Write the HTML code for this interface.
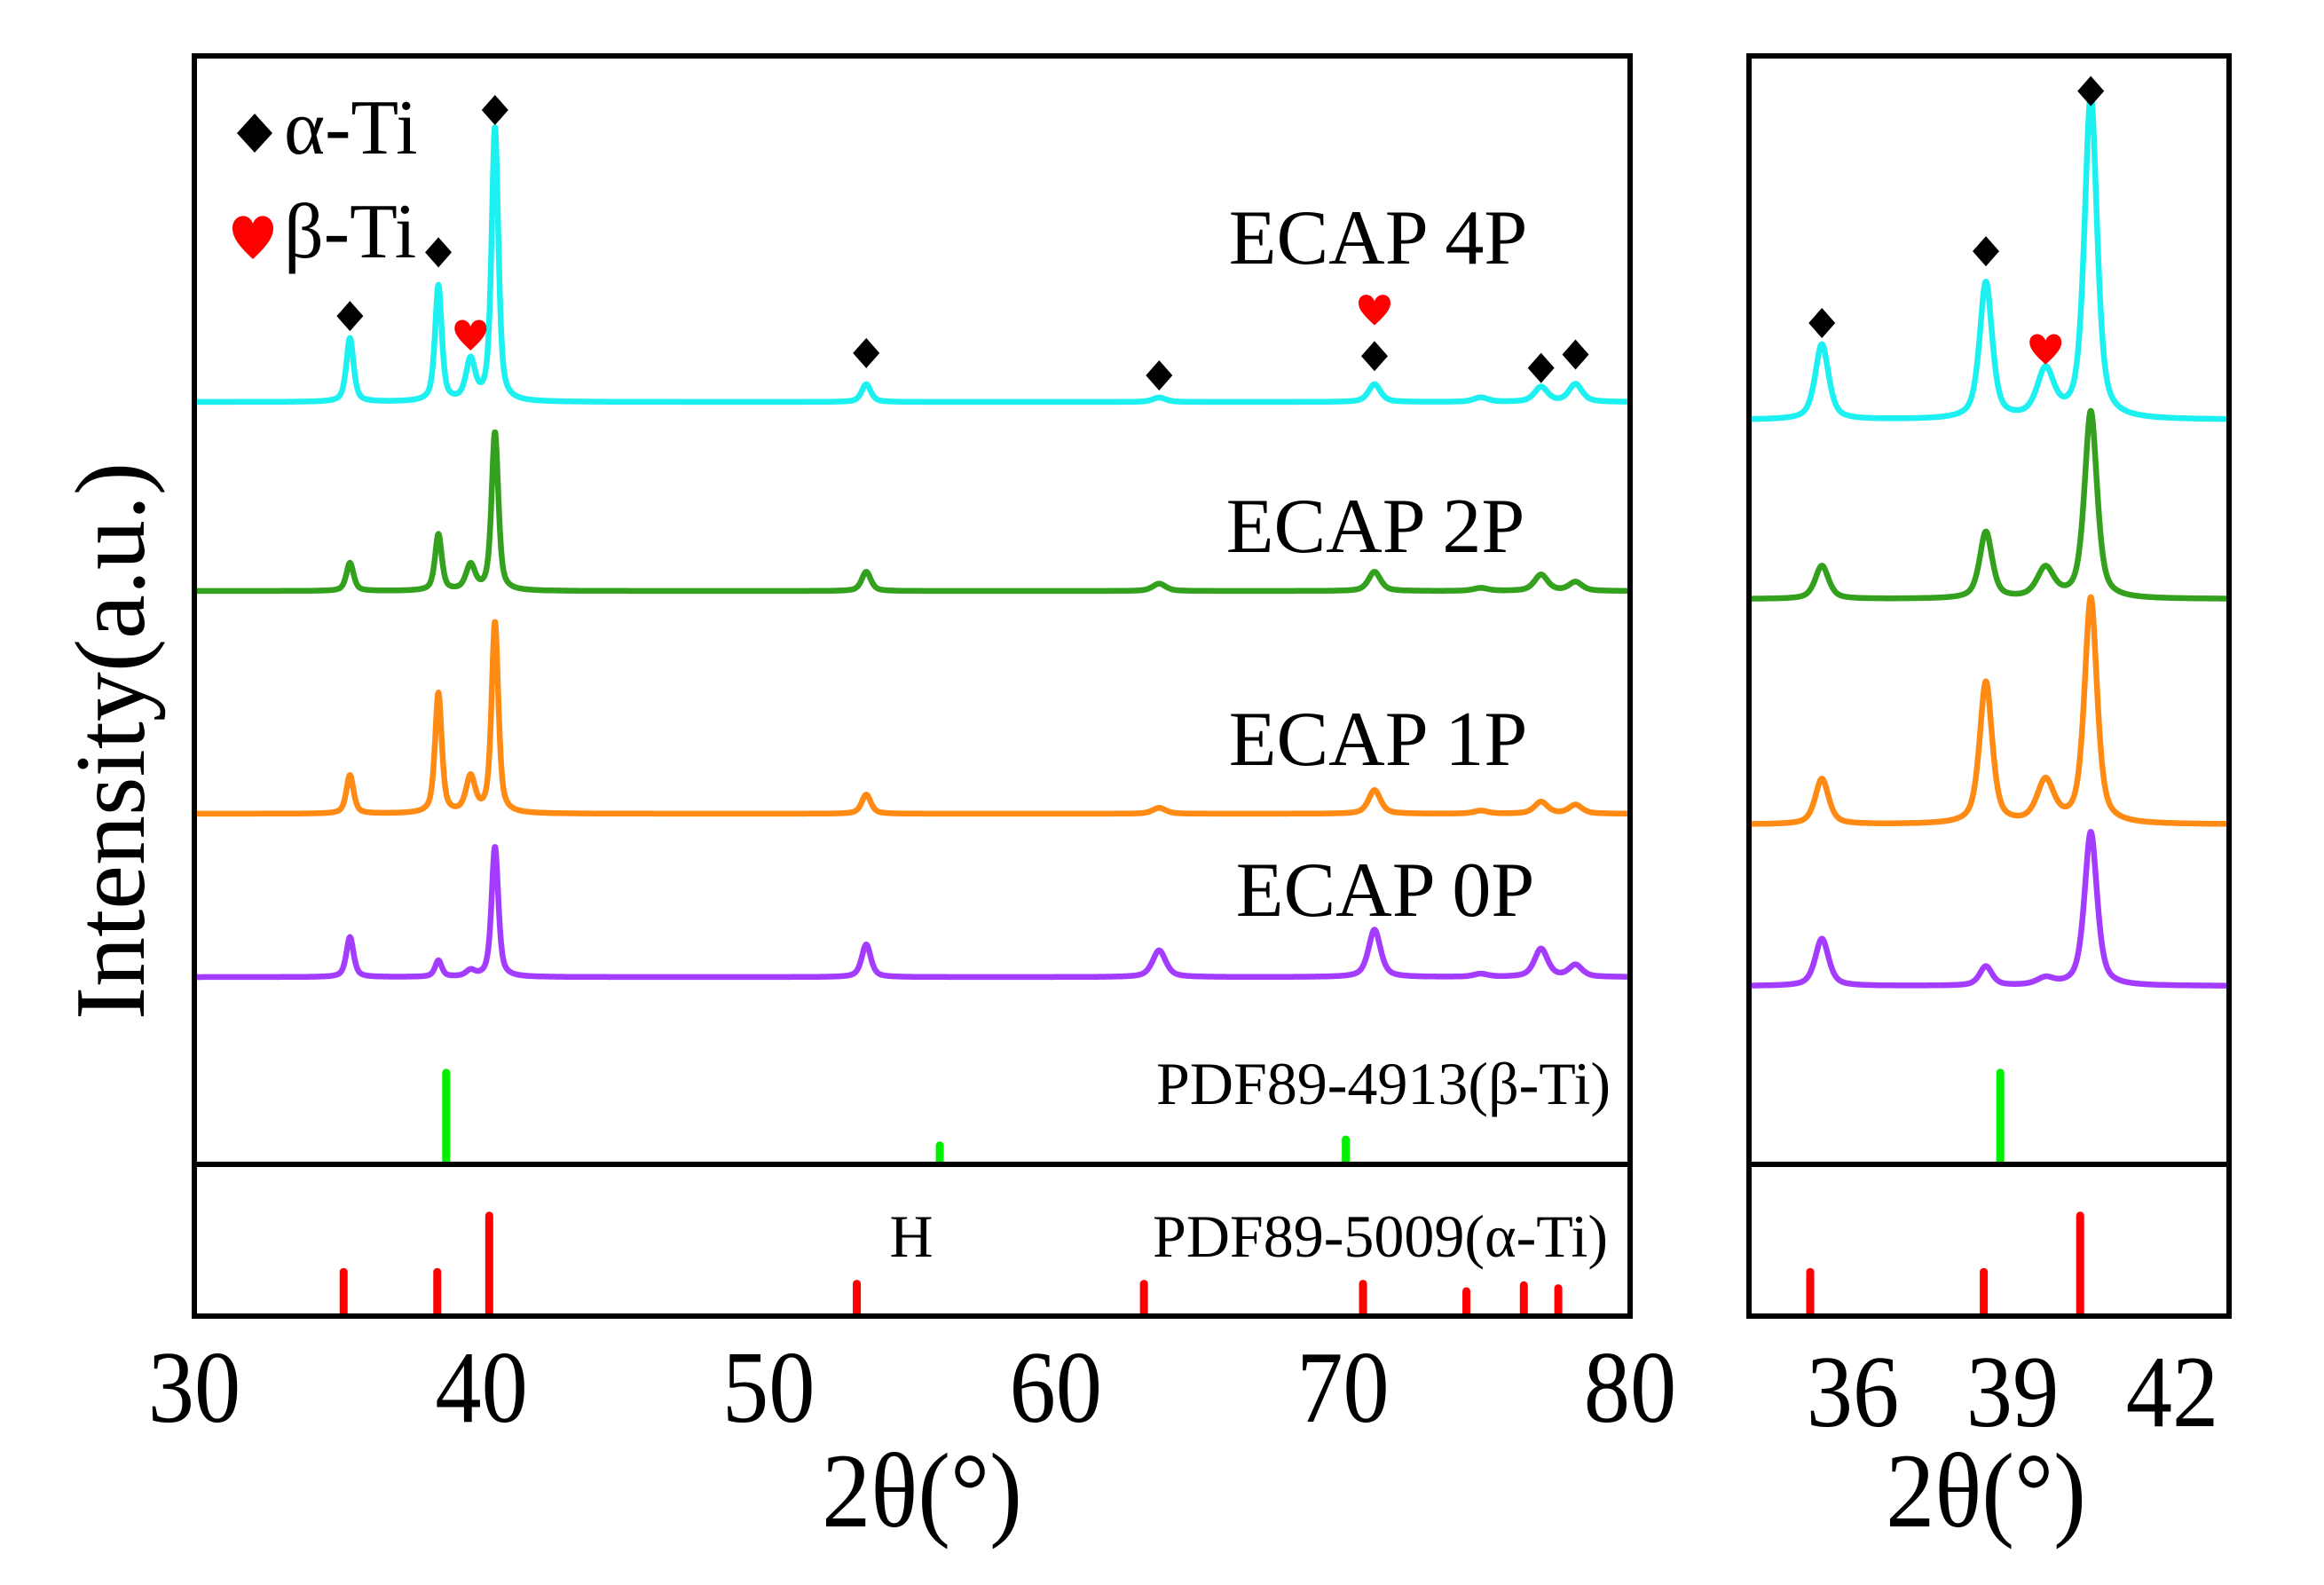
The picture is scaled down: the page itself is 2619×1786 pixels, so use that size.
<!DOCTYPE html>
<html><head><meta charset="utf-8"><style>
html,body{margin:0;padding:0;background:#fff;}
svg{display:block;}
text{font-family:"Liberation Serif",serif;fill:#000;}
</style></head><body>
<svg id="chart" width="2619" height="1786" viewBox="0 0 2619 1786" xmlns="http://www.w3.org/2000/svg">
<defs>
<clipPath id="clipMain"><rect x="222" y="66" width="1612" height="1414"/></clipPath>
<clipPath id="clipRight"><rect x="1974" y="66" width="535" height="1414"/></clipPath>
</defs>
<g id="main-curves" clip-path="url(#clipMain)"></g>
<g id="right-curves" clip-path="url(#clipRight)"></g>
<g id="markers"></g>
<rect x="219" y="63" width="1618" height="1420" fill="none" stroke="#000" stroke-width="6"/>
<line x1="219" y1="1312" x2="1837" y2="1312" stroke="#000" stroke-width="6"/>
<rect x="1971" y="63" width="541" height="1420" fill="none" stroke="#000" stroke-width="6"/>
<line x1="1971" y1="1312" x2="2512" y2="1312" stroke="#000" stroke-width="6"/>

<text x="1553" y="297" font-size="88" text-anchor="middle">ECAP 4P</text>
<text x="1550" y="622" font-size="88" text-anchor="middle">ECAP 2P</text>
<text x="1553" y="862" font-size="88" text-anchor="middle">ECAP 1P</text>
<text x="1561" y="1032" font-size="88" text-anchor="middle">ECAP 0P</text>
<text x="1815" y="1244" font-size="68" text-anchor="end">PDF89-4913(β-Ti)</text>
<text x="1812" y="1416" font-size="68" text-anchor="end">PDF89-5009(α-Ti)</text>
<text x="1027" y="1416" font-size="68" text-anchor="middle">H</text>

<g>
<path d="M287 128 L307 150 L287 172 L267 150 Z" fill="#000"/>
<text x="320" y="173" font-size="88">α-Ti</text>
<path d="M285 292 C270 278 262 268 262 257 C262 242 280 238 285 252 C290 238 308 242 308 257 C308 268 300 278 285 292 Z" fill="#f00"/>
<text x="320" y="290" font-size="88">β-Ti</text>
</g>

<g id="ticks"></g>
<text transform="translate(1039,1720) scale(0.92,1)" font-size="120" text-anchor="middle">2θ(°)</text>
<text transform="translate(2238,1720) scale(0.92,1)" font-size="120" text-anchor="middle">2θ(°)</text>
<text transform="translate(162,835) rotate(-90)" font-size="112" text-anchor="middle">Intensity(a.u.)</text>
</svg>
<script>
const peakAngles = [35.42, 38.5, 39.62, 40.47, 53.4, 63.6, 71.1, 74.8, 76.9, 78.1];
const peakFwhm   = [0.3, 0.28, 0.38, 0.28, 0.38, 0.55, 0.5, 0.6, 0.55, 0.55];
const int4P = [43, 78, 27, 185, 12, 3, 12, 3, 10, 12];
const int2P = [19, 38, 17, 107, 13, 5, 13, 2, 11, 6];
const int1P = [26, 81, 24, 129, 13, 4, 16, 2, 8, 6];
const int0P = [27, 11, 4, 88, 22, 18, 32, 2, 19, 8];
const seriesNames = ["ECAP 4P", "ECAP 2P", "ECAP 1P", "ECAP 0P"];
const alphaRefAngles = [35.2, 38.46, 40.27, 53.07, 63.07, 70.7, 74.3, 76.3, 77.5];
const alphaRefInt = [28, 28, 66, 20, 20, 20, 15, 19, 17];
const betaRefAngles = [38.77, 55.96, 70.1];
const betaRefInt = [60, 11, 15];
const alphaMarkAngles = [35.42, 38.5, 40.47, 53.4, 63.6, 71.1, 76.9, 78.1];
const alphaMarkLevel = [58, 101, 197, 33, 18, 31, 23, 32];
const betaMarkAngles = [39.62, 71.1];
const betaMarkLevel = [45, 62];
const mainTicks = [30, 40, 50, 60, 70, 80];
const zoomTicks = [36, 39, 42];

const NS = "http://www.w3.org/2000/svg";
const colors = ["#1cf0f0", "#34a11e", "#ff8a14", "#a43cff"];
const seriesInts = [int4P, int2P, int1P, int0P];
const mainBase = [453, 666, 917, 1101];
const zoomBase = [473, 675, 929, 1111];
const mainX = a => 219 + (a - 30) * (1618 / 50);
const zoomX = a => 2268 + (a - 39) * 60;
const mainK = 1.67, zoomK = 1.67 * 1.18;

function profile(a, ints) {
  let s = 0;
  for (let i = 0; i < peakAngles.length; i++) {
    const w = peakFwhm[i] / 2, d = a - peakAngles[i];
    const L = 1 / (1 + (d / w) * (d / w));
    const G = Math.exp(-Math.LN2 * (d / w) * (d / w));
    s += ints[i] * (0.6 * L + 0.4 * G);
  }
  return s;
}
function drawCurves(groupId, xf, a0, a1, step, bases, k, panel) {
  const g = document.getElementById(groupId);
  seriesInts.forEach((ints, si) => {
    let d = "";
    for (let a = a0; a <= a1; a += step) {
      const y = bases[si] - profile(a, ints) * k;
      d += (d ? "L" : "M") + xf(a).toFixed(1) + " " + y.toFixed(1);
    }
    const p = document.createElementNS(NS, "path");
    p.setAttribute("d", d);
    p.setAttribute("fill", "none");
    p.setAttribute("stroke", colors[si]);
    p.setAttribute("stroke-width", "6.5");
    p.setAttribute("stroke-linejoin", "round");
    
    
    g.appendChild(p);
  });
}
drawCurves("main-curves", mainX, 29.9, 80.1, 0.02, mainBase, mainK, "main");
drawCurves("right-curves", zoomX, 34.0, 43.2, 0.005, zoomBase, zoomK, "zoom");

function stick(xpx, bottom, h, color, name) {
  const l = document.createElementNS(NS, "line");
  l.setAttribute("x1", xpx); l.setAttribute("x2", xpx);
  l.setAttribute("y1", bottom); l.setAttribute("y2", bottom - h);
  l.setAttribute("stroke", color); l.setAttribute("stroke-width", "9");
  l.setAttribute("stroke-linecap", "round");
  
  
  document.getElementById("chart").insertBefore(l, document.getElementById("markers"));
}
alphaRefAngles.forEach((a, i) => {
  stick(mainX(a), 1480, alphaRefInt[i] * 1.67, "#ff0000", "alpha-ref-stick");
  if (a > 34.1 && a < 43) stick(zoomX(a), 1480, alphaRefInt[i] * 1.67, "#ff0000", "zoom-alpha-ref-stick");
});
betaRefAngles.forEach((a, i) => {
  stick(mainX(a), 1309, betaRefInt[i] * 1.67, "#00ee00", "beta-ref-stick");
  if (a > 34.1 && a < 43) stick(zoomX(a), 1309, betaRefInt[i] * 1.67, "#00ee00", "zoom-beta-ref-stick");
});

const mk = document.getElementById("markers");
function diamond(cx, cy, name) {
  const p = document.createElementNS(NS, "path");
  p.setAttribute("d", `M${cx} ${cy-17} L${cx+15} ${cy} L${cx} ${cy+17} L${cx-15} ${cy} Z`);
  p.setAttribute("fill", "#000");
  
  
  mk.appendChild(p);
}
function heart(cx, cy, name) {
  const p = document.createElementNS(NS, "path");
  p.setAttribute("d", `M${cx} ${cy+17} C${cx-12} ${cy+6} ${cx-18} ${cy-1} ${cx-18} ${cy-8} C${cx-18} ${cy-19} ${cx-4} ${cy-21} ${cx} ${cy-10} C${cx+4} ${cy-21} ${cx+18} ${cy-19} ${cx+18} ${cy-8} C${cx+18} ${cy-1} ${cx+12} ${cy+6} ${cx} ${cy+17} Z`);
  p.setAttribute("fill", "#f00");
  
  
  mk.appendChild(p);
}
alphaMarkAngles.forEach((a, i) => {
  diamond(mainX(a), mainBase[0] - alphaMarkLevel[i] * mainK, "alpha-peak-marker");
  if (a > 34.1 && a < 43) diamond(zoomX(a), zoomBase[0] - alphaMarkLevel[i] * 1.88, "zoom-alpha-peak-marker");
});
betaMarkAngles.forEach((a, i) => {
  heart(mainX(a), mainBase[0] - betaMarkLevel[i] * mainK, "beta-peak-marker");
  if (a > 34.1 && a < 43) heart(zoomX(a), zoomBase[0] - betaMarkLevel[i] * 1.76, "zoom-beta-peak-marker");
});

const tg = document.getElementById("ticks");
function tick(x, y, s, name) {
  const t = document.createElementNS(NS, "text");
  t.setAttribute("transform", `translate(${x},${y}) scale(0.9,1)`);
  t.setAttribute("font-size", "116"); t.setAttribute("text-anchor", "middle");
  t.textContent = s;
  
  
  tg.appendChild(t);
}
mainTicks.forEach(v => tick(mainX(v), 1602, String(v), "main-x-tick-" + v));
zoomTicks.forEach(v => tick(zoomX(v), 1607, String(v), "zoom-x-tick-" + v));
</script>
</body></html>
